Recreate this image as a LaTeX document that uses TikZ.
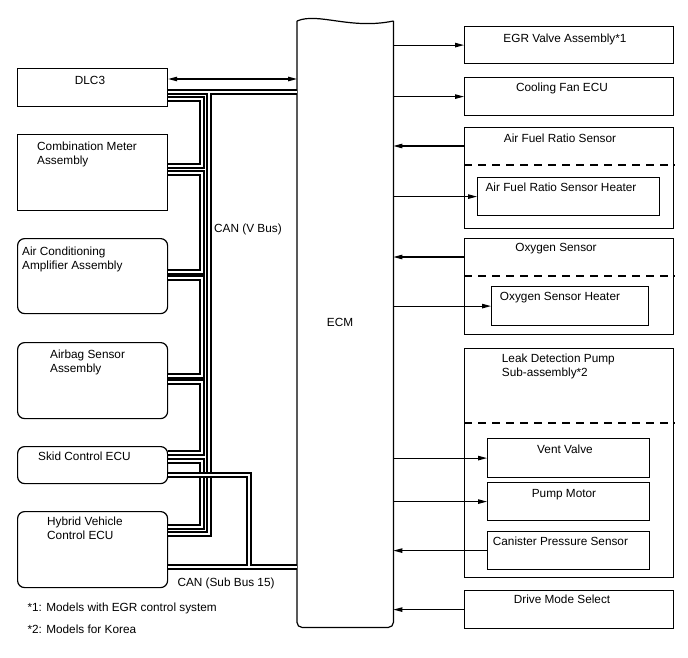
\documentclass[tikz,border=0pt]{standalone}
\usepackage{fontspec}
\setmainfont{Liberation Sans}
\usetikzlibrary{arrows.meta}

\begin{document}
\begin{tikzpicture}[x=1pt,y=-1pt,
 every node/.style={font=\fontsize{11.8}{14}\selectfont,inner sep=0pt},
 unit/.style={draw,line width=1.2pt,minimum width=150pt,anchor=north west},
 ecu/.style={unit,rounded corners=7pt},
 part/.style={draw,line width=1.2pt,anchor=north west},
 sig/.style={line width=1.1pt,-{Triangle[length=9pt,width=4.5pt]}},
 dual/.style={line width=1.1pt,{Triangle[length=9pt,width=4.5pt]}-{Triangle[length=9pt,width=4.5pt]}},
 sep/.style={line width=1.1pt,dash pattern=on 8pt off 6pt},
 wire/.style={line width=5.2pt},
 gap/.style={white,line width=1.4pt}]
\useasboundingbox (0,0) rectangle (688,658);

\node[unit,minimum height=38pt] (dlc) at (17,68) {};
\node[unit,minimum height=76pt] (meter) at (17,134) {};
\node[ecu,minimum height=75pt] (aircon) at (17,238) {};
\node[ecu,minimum height=76pt] (airbag) at (17,342) {};
\node[ecu,minimum height=37pt] (skid) at (17,446) {};
\node[ecu,minimum height=76pt] (hv) at (17,511) {};
\node[anchor=north] (dlctxt) at (90,76) {DLC3};
\node[anchor=north west,align=left] (metertxt) at (37,141.7) {Combination Meter\\Assembly};
\node[anchor=north west,align=left] (aircontxt) at (22,246.5) {Air Conditioning\\Amplifier Assembly};
\node[anchor=north west,align=left] (airbagtxt) at (50,350) {Airbag Sensor\\Assembly};
\node[anchor=north west] (skidtxt) at (38,451.7) {Skid Control ECU};
\node[anchor=north west,align=left] (hvtxt) at (47,517) {Hybrid Vehicle\\Control ECU};

\node[minimum width=96pt,minimum height=606pt,anchor=north west] (ecm) at (297,21) {};
\draw[line width=1.2pt,rounded corners=5pt] (ecm.north east) -- (ecm.south east) -- (ecm.south west) -- (ecm.north west);
\draw[line width=1.2pt] (ecm.north west) .. controls +(21,-9) and +(-43,9) .. (ecm.north east);
\node (ecmtxt) at (340,322) {ECM};

\node[part,minimum width=209pt,minimum height=37pt] (egr) at (464,26) {};
\node[part,minimum width=209pt,minimum height=38pt] (fan) at (464,77) {};
\node[part,minimum width=209pt,minimum height=101pt] (afs) at (464,127) {};
\node[part,minimum width=182pt,minimum height=38pt] (afsh) at (477,177) {};
\node[part,minimum width=209pt,minimum height=96pt] (oxs) at (464,238) {};
\node[part,minimum width=157pt,minimum height=39pt] (oxsh) at (491,286) {};
\node[part,minimum width=209pt,minimum height=229pt] (ldp) at (464,348) {};
\node[part,minimum width=162pt,minimum height=39pt] (vent) at (487,438) {};
\node[part,minimum width=162pt,minimum height=38pt] (pump) at (487,482) {};
\node[part,minimum width=162pt,minimum height=38pt] (cps) at (487,531) {};
\node[part,minimum width=209pt,minimum height=38pt] (dms) at (464,590) {};
\draw[sep] ([yshift=-38pt]afs.north west) -- ([yshift=-38pt]afs.north east);
\draw[sep] ([yshift=-38pt]oxs.north west) -- ([yshift=-38pt]oxs.north east);
\draw[sep] ([yshift=-75pt]ldp.north west) -- ([yshift=-75pt]ldp.north east);
\node[anchor=north] (egrtxt) at (565,33.3) {EGR Valve Assembly*1};
\node[anchor=north] (fantxt) at (562,82.7) {Cooling Fan ECU};
\node[anchor=north] (afstxt) at (560,133.3) {Air Fuel Ratio Sensor};
\node[anchor=north] (afshtxt) at (561,182.7) {Air Fuel Ratio Sensor Heater};
\node[anchor=north] (oxstxt) at (556,243) {Oxygen Sensor};
\node[anchor=north] (oxshtxt) at (560,292) {Oxygen Sensor Heater};
\node[anchor=north west,align=left] (ldptxt) at (501.7,353.3) {Leak Detection Pump\\Sub-assembly*2};
\node[anchor=north] (venttxt) at (565,444.3) {Vent Valve};
\node[anchor=north] (pumptxt) at (564,489.3) {Pump Motor};
\node[anchor=north west] (cpstxt) at (492.7,536.7) {Canister Pressure Sensor};
\node[anchor=north] (dmstxt) at (562,595) {Drive Mode Select};

\coordinate (dlcio) at ([yshift=-11pt]dlc.north east);
\coordinate (afsin) at ([yshift=-19pt]afs.north west);
\coordinate (oxsin) at ([yshift=-19pt]oxs.north west);
\draw[dual] (dlcio) -- (ecm.west |- dlcio);
\draw[sig] (ecm.east |- egr.west) -- (egr.west);
\draw[sig] (ecm.east |- fan.west) -- (fan.west);
\draw[sig] (afsin) -- (ecm.east |- afsin);
\draw[sig] (ecm.east |- afsh.west) -- (afsh.west);
\draw[sig] (oxsin) -- (ecm.east |- oxsin);
\draw[sig] (ecm.east |- oxsh.west) -- (oxsh.west);
\draw[sig] (ecm.east |- vent.west) -- (vent.west);
\draw[sig] (ecm.east |- pump.west) -- (pump.west);
\draw[sig] (cps.west) -- (ecm.east |- cps.west);
\draw[sig] (dms.west) -- (ecm.east |- dms.west);

\coordinate (d1) at ([yshift=-24pt]dlc.north east);
\coordinate (d2) at ([yshift=-31pt]dlc.north east);
\coordinate (m1) at ([yshift=-32pt]meter.north east);
\coordinate (m2) at ([yshift=-39pt]meter.north east);
\coordinate (a1) at ([yshift=-34pt]aircon.north east);
\coordinate (a2) at ([yshift=-40pt]aircon.north east);
\coordinate (b1) at ([yshift=-34pt]airbag.north east);
\coordinate (b2) at ([yshift=-40pt]airbag.north east);
\coordinate (s1) at ([yshift=-7pt]skid.north east);
\coordinate (s2) at ([yshift=-15pt]skid.north east);
\coordinate (s3) at ([yshift=-29pt]skid.north east);
\coordinate (h1) at ([yshift=-16pt]hv.north east);
\coordinate (h2) at ([yshift=-23pt]hv.north east);
\coordinate (h3) at ([yshift=-56pt]hv.north east);
\coordinate (vch) at (202,92);
\coordinate (vtr) at (209,92);
\coordinate (sbx) at (249,475);
\foreach \s in {wire,gap}
  \draw[\s] (d1) -- (ecm.west |- d1) (vtr) |- (h2)
    (d2) -| (vch |- m1) -- (m1) (m2) -| (vch |- a1) -- (a1)
    (a2) -| (vch |- b1) -- (b1) (b2) -| (vch |- s1) -- (s1)
    (s2) -| (vch |- h1) -- (h1);
\foreach \s in {wire,gap}
  \draw[\s] (s3) -| (sbx |- h3) (h3) -- (ecm.west |- h3);
\node[anchor=north west] (vbus) at (214,223.5) {CAN (V Bus)};
\node[anchor=north west] (subbus) at (177.3,578) {CAN (Sub Bus 15)};

\node[anchor=north west] (note1) at (27.3,602.7) {*1: Models with EGR control system};
\node[anchor=north west] (note2) at (27.3,625) {*2: Models for Korea};
\end{tikzpicture}
\end{document}
